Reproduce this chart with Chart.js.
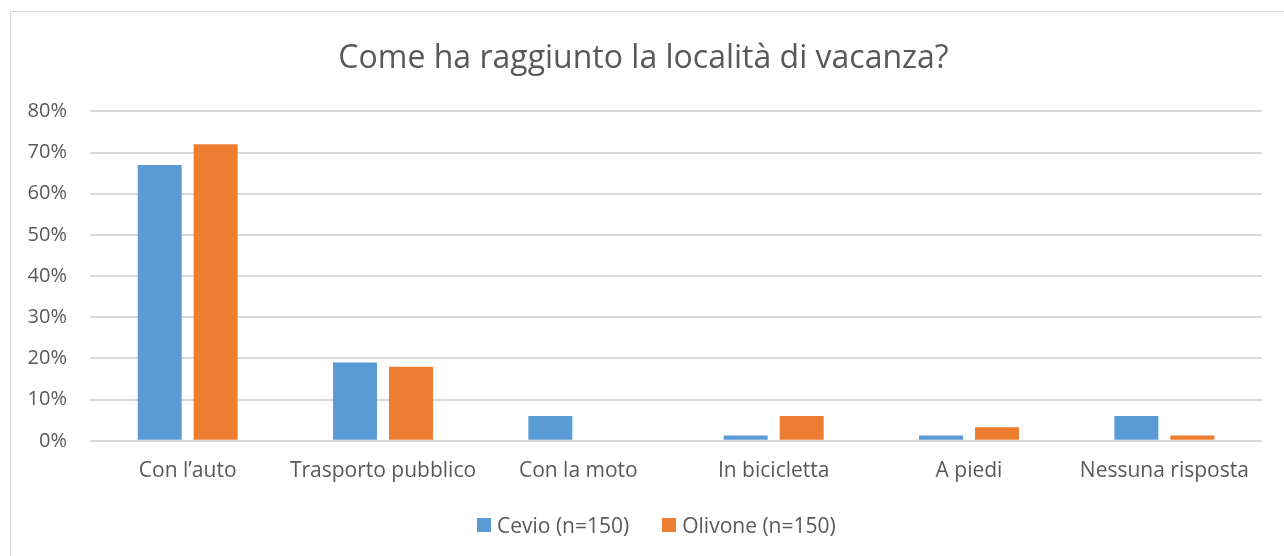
<!DOCTYPE html>
<html>
<head>
<meta charset="utf-8">
<script src="https://cdn.jsdelivr.net/npm/chart.js@4/dist/chart.umd.min.js"></script>
<style>
html,body{margin:0;padding:0;background:#fff;}
#wrap{position:relative;width:1284px;height:556px;}
#legend{position:absolute;left:477px;top:512px;height:26px;display:flex;align-items:center;
  font-family:'Open Sans','DejaVu Sans',sans-serif;font-size:21px;color:#595959;white-space:nowrap;}
#legend .item{display:flex;align-items:center;margin-right:33px;}
#legend .box{width:14px;height:14px;margin-right:6px;}
</style>
</head>
<body>
<div id="wrap"><canvas id="c" width="1284" height="556"></canvas><div id="legend"></div></div>
<script>
const categories = ["Con l’auto", "Trasporto pubblico", "Con la moto", "In bicicletta", "A piedi", "Nessuna risposta"];
const cevio = [67, 19, 6, 1.3, 1.3, 6];
const olivone = [72, 18, 0, 6, 3.3, 1.3];
const seriesNames = ["Cevio (n=150)", "Olivone (n=150)"];
const seriesColors = ["#5B9BD5", "#ED7D31"];
const yTicks = [0, 10, 20, 30, 40, 50, 60, 70, 80];
const titleText = "Come ha raggiunto la località di vacanza?";

const FONT = "'Open Sans', 'DejaVu Sans', sans-serif";
const TXT = "#595959";

const borderPlugin = {
  id: 'outerBorder',
  beforeDraw(chart) {
    const ctx = chart.ctx;
    ctx.save();
    ctx.fillStyle = '#fff';
    ctx.fillRect(0, 0, chart.width, chart.height);
    ctx.strokeStyle = '#d9d9d9';
    ctx.lineWidth = 1;
    ctx.strokeRect(10.5, 11.5, chart.width, chart.height);
    ctx.restore();
  }
};

const chart = new Chart(document.getElementById('c'), {
  type: 'bar',
  data: {
    labels: categories,
    datasets: [
      { label: seriesNames[0], data: cevio, backgroundColor: seriesColors[0], categoryPercentage: 0.573, barPercentage: 0.786 },
      { label: seriesNames[1], data: olivone, backgroundColor: seriesColors[1], categoryPercentage: 0.573, barPercentage: 0.786 }
    ]
  },
  options: {
    responsive: false,
    animation: false,
    devicePixelRatio: 1,
    layout: { padding: { left: 25, right: 22, top: 40, bottom: 54 } },
    plugins: {
      title: {
        display: true,
        text: titleText,
        color: TXT,
        font: { family: FONT, size: 32, weight: 'normal' },
        padding: { top: 0, bottom: 33 }
      },
      legend: { display: false },
      tooltip: { enabled: false }
    },
    scales: {
      x: {
        grid: { display: false, drawTicks: false },
        border: { display: false },
        ticks: { color: TXT, font: { family: FONT, size: 21 }, padding: 18, maxRotation: 0, autoSkip: false }
      },
      y: {
        min: 0, max: 80,
        afterFit(scale) { scale.width = 65; },
        afterBuildTicks(scale) { scale.ticks = yTicks.map(v => ({ value: v })); },
        grid: { color: '#d9d9d9', lineWidth: 2, drawTicks: false },
        border: { display: false },
        ticks: { color: TXT, font: { family: FONT, size: 20 }, padding: 23, callback: v => v + '%' }
      }
    }
  },
  plugins: [borderPlugin]
});

const legendEl = document.getElementById('legend');
chart.data.datasets.forEach(ds => {
  const item = document.createElement('div');
  item.className = 'item';
  const box = document.createElement('span');
  box.className = 'box';
  box.style.background = ds.backgroundColor;
  const txt = document.createElement('span');
  txt.textContent = ds.label;
  item.appendChild(box);
  item.appendChild(txt);
  legendEl.appendChild(item);
});
</script>
</body>
</html>
